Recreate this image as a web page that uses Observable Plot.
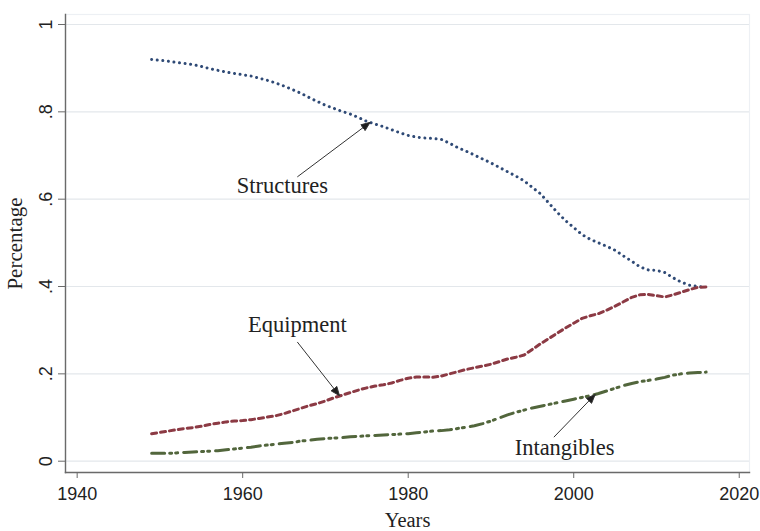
<!DOCTYPE html>
<html>
<head>
<meta charset="utf-8">
<script src="https://cdn.jsdelivr.net/npm/d3@7"></script>
<script src="https://cdn.jsdelivr.net/npm/@observablehq/plot@0.6"></script>
<style>
  html, body { margin: 0; padding: 0; background: #fff; }
  #chart svg { display: block; }
</style>
</head>
<body>
<div id="chart"></div>
<script>
// Share of each capital type, 1949–2016
const years = [
  1949, 1950, 1951, 1952, 1953, 1954, 1955, 1956, 1957, 1958, 1959,
  1960, 1961, 1962, 1963, 1964, 1965, 1966, 1967, 1968, 1969,
  1970, 1971, 1972, 1973, 1974, 1975, 1976, 1977, 1978, 1979,
  1980, 1981, 1982, 1983, 1984, 1985, 1986, 1987, 1988, 1989,
  1990, 1991, 1992, 1993, 1994, 1995, 1996, 1997, 1998, 1999,
  2000, 2001, 2002, 2003, 2004, 2005, 2006, 2007, 2008, 2009,
  2010, 2011, 2012, 2013, 2014, 2015, 2016
];

const structures = [
  0.920, 0.918, 0.916, 0.913, 0.911, 0.908, 0.904, 0.899, 0.895, 0.891, 0.888,
  0.885, 0.882, 0.877, 0.872, 0.866, 0.859, 0.851, 0.843, 0.833, 0.824,
  0.815, 0.808, 0.801, 0.795, 0.787, 0.778, 0.772, 0.766, 0.759, 0.752,
  0.746, 0.742, 0.740, 0.739, 0.737, 0.728, 0.718, 0.710, 0.701, 0.692,
  0.683, 0.673, 0.663, 0.653, 0.642, 0.627, 0.612, 0.591, 0.570, 0.551,
  0.535, 0.519, 0.508, 0.500, 0.492, 0.483, 0.470, 0.458, 0.445, 0.438,
  0.437, 0.432, 0.420, 0.410, 0.403, 0.400, 0.398
];

const equipment = [
  0.063, 0.066, 0.069, 0.072, 0.075, 0.077, 0.080, 0.084, 0.087, 0.090, 0.092,
  0.093, 0.095, 0.098, 0.101, 0.104, 0.109, 0.115, 0.121, 0.127, 0.132,
  0.138, 0.145, 0.151, 0.157, 0.163, 0.168, 0.172, 0.175, 0.179, 0.185,
  0.190, 0.193, 0.193, 0.192, 0.195, 0.200, 0.205, 0.210, 0.214, 0.218,
  0.222, 0.228, 0.234, 0.238, 0.243, 0.256, 0.269, 0.281, 0.293, 0.305,
  0.316, 0.327, 0.333, 0.338, 0.346, 0.355, 0.365, 0.375, 0.381, 0.382,
  0.379, 0.376, 0.381, 0.387, 0.393, 0.398, 0.399
];

const intangibles = [
  0.018, 0.018, 0.018, 0.019, 0.020, 0.021, 0.022, 0.023, 0.024, 0.026, 0.028,
  0.030, 0.032, 0.035, 0.037, 0.039, 0.041, 0.043, 0.046, 0.048, 0.050,
  0.052, 0.053, 0.054, 0.056, 0.057, 0.058, 0.059, 0.060, 0.061, 0.062,
  0.063, 0.065, 0.067, 0.069, 0.070, 0.072, 0.075, 0.078, 0.081, 0.086,
  0.092, 0.099, 0.106, 0.112, 0.117, 0.122, 0.126, 0.130, 0.134, 0.138,
  0.142, 0.146, 0.150, 0.155, 0.161, 0.167, 0.173, 0.178, 0.182, 0.185,
  0.188, 0.192, 0.197, 0.200, 0.202, 0.203, 0.204
];

const xTicks = [1940, 1960, 1980, 2000, 2020];
const yTicks = [0, 0.2, 0.4, 0.6, 0.8, 1];
const yTickLabels = ["0", ".2", ".4", ".6", ".8", "1"];

// Callout labels and the arrows that point from them to each line
const noteNames = ["Structures", "Equipment", "Intangibles"];
const noteX = [1964.8, 1966.6, 1998.9];
const noteY = [0.630, 0.312, 0.031];
const arrowFromX = [1966.6, 1966.6, 1997.6];
const arrowFromY = [0.651, 0.273, 0.055];
const arrowToX = [1975.4, 1971.7, 2002.6];
const arrowToY = [0.776, 0.150, 0.153];

const rows = years.flatMap((year, i) => [
  {year, series: "Structures", value: structures[i]},
  {year, series: "Equipment", value: equipment[i]},
  {year, series: "Intangibles", value: intangibles[i]}
]);
const notes = noteNames.map((name, i) => ({
  name, x: noteX[i], y: noteY[i],
  x1: arrowFromX[i], y1: arrowFromY[i], x2: arrowToX[i], y2: arrowToY[i]
}));
const yTickData = yTicks.map((v, i) => ({v, label: yTickLabels[i]}));

const serif = "'Liberation Serif', 'Times New Roman', Times, serif";
const axisGray = "#6a6a6a";

// Solid triangular arrowhead
function filledHead() {
  const m = d3.create("svg:marker")
    .attr("viewBox", "-10 -5 10 10")
    .attr("refX", 0)
    .attr("refY", 0)
    .attr("markerWidth", 10)
    .attr("markerHeight", 9)
    .attr("markerUnits", "userSpaceOnUse")
    .attr("orient", "auto")
    .attr("fill", "#1e1e1e");
  m.append("path").attr("d", "M-10,-4L0,0L-10,4Z");
  return m.node();
}

const chart = Plot.plot({
  width: 760,
  height: 531,
  marginLeft: 65,
  marginRight: 11,
  marginTop: 14,
  marginBottom: 59,
  style: {
    fontFamily: "'Liberation Sans', Arial, Helvetica, sans-serif",
    fontSize: "18px",
    color: "#222",
    background: "#fff"
  },
  x: {domain: [1938.59, 2021.24], axis: null},
  y: {domain: [-0.0259, 1.0229], axis: null},
  marks: [
    Plot.frame({stroke: "#edf0f4", strokeWidth: 1.2}),
    Plot.gridY(yTicks, {stroke: "#e3e7eb", strokeOpacity: 1, strokeWidth: 1.2}),
    Plot.frame({anchor: "left", stroke: axisGray, strokeWidth: 1.4}),
    Plot.frame({anchor: "bottom", stroke: axisGray, strokeWidth: 1.4}),
    Plot.axisX(xTicks, {
      tickSize: 6, tickPadding: 9, stroke: axisGray, fill: "#222",
      tickFormat: d => String(d), label: null
    }),
    Plot.axisY(yTicks, {tickSize: 7, stroke: axisGray, tickFormat: () => "", label: null}),
    Plot.text(yTickData, {
      y: "v", text: "label", frameAnchor: "left", dx: -19, rotate: -90,
      textAnchor: "middle", lineAnchor: "middle", fill: "#222"
    }),
    Plot.text(["Percentage"], {
      text: d => d, frameAnchor: "left", dx: -50, rotate: -90,
      textAnchor: "middle", lineAnchor: "middle",
      fontFamily: serif, fontSize: 21, fill: "#222"
    }),
    Plot.text(["Years"], {
      text: d => d, frameAnchor: "bottom", dy: 48,
      textAnchor: "middle", lineAnchor: "middle",
      fontFamily: serif, fontSize: 20.5, fill: "#222"
    }),
    Plot.line(rows, {
      filter: d => d.series === "Structures", x: "year", y: "value",
      stroke: "#2f4a76", strokeWidth: 3, strokeLinecap: "round",
      strokeDasharray: "0.01,5.6"
    }),
    Plot.line(rows, {
      filter: d => d.series === "Equipment", x: "year", y: "value",
      stroke: "#8c3a44", strokeWidth: 3, strokeDasharray: "5,4"
    }),
    Plot.line(rows, {
      filter: d => d.series === "Intangibles", x: "year", y: "value",
      stroke: "#52663c", strokeWidth: 3, strokeDasharray: "13,5,2,4,2,6"
    }),
    Plot.link(notes, {
      x1: "x1", y1: "y1", x2: "x2", y2: "y2",
      stroke: "#333", strokeWidth: 1, markerEnd: filledHead
    }),
    Plot.text(notes, {
      x: "x", y: "y", text: "name", textAnchor: "middle", lineAnchor: "middle",
      fontFamily: serif, fontSize: 22.5, fill: "#222"
    })
  ]
});

document.getElementById("chart").append(chart);
</script>
</body>
</html>
